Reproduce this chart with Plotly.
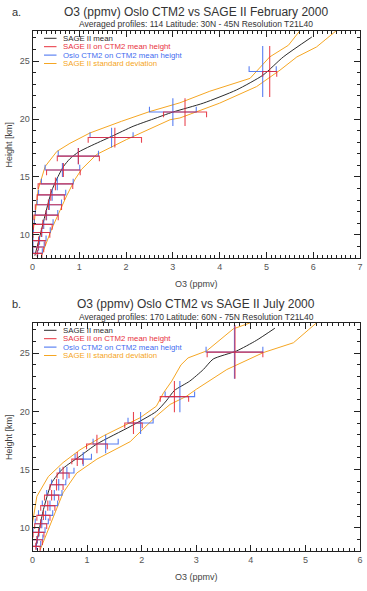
import plotly.graph_objects as go

W, H = 367, 591

# ---------------- Data: panel a (February 2000, 30N-45N) ----------------
a_mean_o3 = [0.05, 0.125, 0.196, 0.267, 0.339, 0.41, 0.517, 0.66, 0.8, 0.98, 1.23, 1.69, 2.15, 2.58, 3.0, 3.65, 4.36, 4.93, 5.36, 5.97]
a_mean_h = [8.2, 9.37, 10.51, 11.66, 12.8, 13.8, 14.8, 15.89, 16.57, 17.14, 17.65, 18.5, 19.37, 20.0, 20.6, 21.37, 22.51, 23.8, 25.36, 27.08]
a_sdlo_o3 = [-0.03, 0.02, 0.07, 0.12, 0.27, 0.52, 0.8, 1.23, 1.9, 2.51, 3.15, 3.79, 4.65, 4.9, 5.07, 5.47, 5.72]
a_sdlo_h = [9.5, 10.5, 12.2, 13.9, 15.9, 17.2, 17.9, 18.8, 19.8, 20.65, 21.4, 22.4, 23.51, 24.65, 25.36, 26.37, 27.65]
a_sdhi_o3 = [0.196, 0.41, 0.73, 0.91, 1.05, 1.37, 2.01, 2.94, 3.15, 4.0, 4.79, 5.29, 5.65, 6.07, 6.5]
a_sdhi_h = [8.23, 10.51, 13.37, 14.8, 15.66, 16.94, 18.23, 19.94, 20.09, 21.37, 22.8, 24.22, 25.36, 26.22, 27.65]

a_lev_h = [24.1, 20.6, 18.4, 16.8, 15.6, 14.4, 13.45, 12.6, 11.7, 10.9, 10.2, 9.5, 8.95, 8.4]
a_lev_dz = [2.2, 1.2, 0.85, 0.7, 0.6, 0.55, 0.5, 0.45, 0.45, 0.4, 0.38, 0.35, 0.3, 0.3]
a_sage = [5.07, 3.26, 1.76, 0.98, 0.66, 0.49, 0.39, 0.34, 0.29, 0.22, 0.19, 0.13, 0.12, 0.10]
a_sage_sd = [0.15, 0.46, 0.57, 0.45, 0.36, 0.37, 0.29, 0.28, 0.26, 0.20, 0.18, 0.14, 0.12, 0.10]
a_ctm = [4.92, 3.0, 1.69, 0.98, 0.64, 0.53, 0.42, 0.36, 0.30, 0.24, 0.20, 0.15, 0.13, 0.11]
a_ctm_sd = [0.29, 0.5, 0.46, 0.43, 0.37, 0.34, 0.29, 0.26, 0.24, 0.20, 0.18, 0.14, 0.12, 0.10]

# ---------------- Data: panel b (July 2000, 60N-75N) ----------------
b_mean_o3 = [0.064, 0.13, 0.2, 0.35, 0.56, 0.87, 1.18, 1.79, 2.27, 2.45, 2.6, 2.88, 3.13, 3.31, 3.74, 4.1, 4.44]
b_mean_h = [8.39, 10.0, 11.55, 13.85, 15.1, 16.15, 17.2, 18.7, 20.0, 20.9, 21.8, 22.6, 23.6, 24.5, 25.2, 26.1, 27.15]
b_sdlo_o3 = [0.0, 0.08, 0.29, 0.56, 0.87, 1.3, 1.97, 2.27, 2.4, 2.55, 2.72, 2.85, 3.19, 3.68, 3.98]
b_sdlo_h = [10.4, 12.7, 14.4, 15.6, 16.7, 17.9, 19.45, 20.45, 21.6, 22.6, 24.0, 24.6, 25.2, 27.1, 27.6]
b_sdhi_o3 = [0.14, 0.38, 0.56, 0.81, 1.18, 1.79, 2.27, 2.52, 2.82, 3.0, 3.56, 4.23, 4.78, 5.2]
b_sdhi_h = [8.1, 11.0, 13.0, 14.7, 15.9, 17.4, 19.6, 20.6, 21.3, 21.9, 23.6, 25.06, 25.9, 27.6]

b_lev_h = [25.1, 21.27, 19.0, 17.2, 15.9, 14.7, 13.7, 12.8, 11.9, 11.06, 10.34, 9.6, 8.97, 8.4]
b_lev_dz = [2.3, 1.35, 0.95, 0.8, 0.6, 0.55, 0.5, 0.45, 0.45, 0.4, 0.38, 0.35, 0.32, 0.3]
b_sage = [3.71, 2.6, 1.85, 1.18, 0.82, 0.56, 0.44, 0.35, 0.28, 0.20, 0.15, 0.11, 0.08, 0.06]
b_sage_sd = [0.51, 0.26, 0.16, 0.19, 0.10, 0.11, 0.12, 0.13, 0.13, 0.12, 0.11, 0.10, 0.10, 0.08]
b_ctm = [3.70, 2.7, 1.98, 1.34, 0.93, 0.63, 0.48, 0.40, 0.32, 0.24, 0.17, 0.12, 0.09, 0.07]
b_ctm_sd = [0.52, 0.27, 0.23, 0.23, 0.15, 0.13, 0.13, 0.14, 0.14, 0.13, 0.12, 0.11, 0.10, 0.08]

titles = ["O3 (ppmv) Oslo CTM2 vs SAGE II February 2000", "O3 (ppmv) Oslo CTM2 vs SAGE II July 2000"]
subtitles = ["Averaged profiles: 114 Latitude: 30N - 45N Resolution T21L40",
             "Averaged profiles: 170 Latitude: 60N - 75N Resolution T21L40"]
panel_labels = ["a.", "b."]
legend_names = ["SAGE II mean", "SAGE II on CTM2 mean height", "Oslo CTM2 on CTM2 mean height", "SAGE II standard deviation"]
x_max = [7, 6]
y_range = [8, 27.6]

# ---------------- Styles ----------------
C_BLACK = "#2b2b2b"
C_RED = "rgba(228,38,52,0.85)"
C_BLUE = "rgba(60,105,240,0.85)"
C_ORANGE = "#f5a623"
C_RED_T = "#e8323e"
C_BLUE_T = "#3f6cf0"
FONT = "Liberation Sans, Arial, Helvetica, sans-serif"
CAP = 0.45

# pixel layout
X0, X1 = 32.5, 360
panels_px = [(31, 258), (323, 551)]


def px(x):
    return x / W


def py(y):
    return 1 - y / H


def crosses(vals, sds, hs, dzs, cap_sign):
    xs, ys = [], []
    for v, s, h, dz in zip(vals, sds, hs, dzs):
        xs += [v - s, v - s, v + s, v + s, None, v, v, None]
        ys += [h + cap_sign * CAP, h, h, h + cap_sign * CAP, None, h - dz, h + dz, None]
    return xs, ys


fig = go.Figure()
panels = [
    (a_mean_o3, a_mean_h, a_sdlo_o3, a_sdlo_h, a_sdhi_o3, a_sdhi_h, a_lev_h, a_lev_dz, a_sage, a_sage_sd, a_ctm, a_ctm_sd),
    (b_mean_o3, b_mean_h, b_sdlo_o3, b_sdlo_h, b_sdhi_o3, b_sdhi_h, b_lev_h, b_lev_dz, b_sage, b_sage_sd, b_ctm, b_ctm_sd),
]

annotations = []
shapes = []
for i, (mo, mh, lo, lh, ho, hh, lev, dz, sg, sgs, ct, cts) in enumerate(panels):
    xa = "x" if i == 0 else "x2"
    ya = "y" if i == 0 else "y2"
    common = dict(xaxis=xa, yaxis=ya, mode="lines", showlegend=False, hoverinfo="skip")
    fig.add_trace(go.Scatter(x=lo, y=lh, line=dict(color=C_ORANGE, width=1), **common))
    fig.add_trace(go.Scatter(x=ho, y=hh, line=dict(color=C_ORANGE, width=1), **common))
    fig.add_trace(go.Scatter(x=mo, y=mh, line=dict(color=C_BLACK, width=1, shape="spline", smoothing=0.6), **common))
    bx, by = crosses(ct, cts, lev, dz, +1)
    fig.add_trace(go.Scatter(x=bx, y=by, line=dict(color=C_BLUE, width=1.1), connectgaps=False, **common))
    rx, ry = crosses(sg, sgs, lev, dz, -1)
    fig.add_trace(go.Scatter(x=rx, y=ry, line=dict(color=C_RED, width=1.1), connectgaps=False, **common))

    top, bot = panels_px[i]
    # titles
    annotations.append(dict(text=panel_labels[i], x=px(10), y=py(top - 19), xref="paper", yref="paper",
                            showarrow=False, xanchor="left", yanchor="middle", font=dict(size=11, color="#333", family=FONT)))
    annotations.append(dict(text=titles[i], x=px((X0 + X1) / 2), y=py(top - 19), xref="paper", yref="paper",
                            showarrow=False, xanchor="center", yanchor="middle", font=dict(size=12, color="#333", family=FONT)))
    annotations.append(dict(text=subtitles[i], x=px((X0 + X1) / 2), y=py(top - 6.5), xref="paper", yref="paper",
                            showarrow=False, xanchor="center", yanchor="middle", font=dict(size=8.5, color="#333", family=FONT)))
    annotations.append(dict(text="O3 (ppmv)", x=px((X0 + X1) / 2), y=py(bot + 26), xref="paper", yref="paper",
                            showarrow=False, xanchor="center", yanchor="middle", font=dict(size=9, color="#444", family=FONT)))
    annotations.append(dict(text="Height [km]", x=px(9), y=py((top + bot) / 2), xref="paper", yref="paper",
                            showarrow=False, textangle=-90, xanchor="center", yanchor="middle",
                            font=dict(size=9, color="#444", family=FONT)))
    # legend
    leg_cols = [C_BLACK, C_RED_T, C_BLUE_T, C_ORANGE]
    for k, (name, col) in enumerate(zip(legend_names, leg_cols)):
        yy = top + 7.3 + k * 8.4
        shapes.append(dict(type="line", xref="paper", yref="paper", x0=px(44), x1=px(56.5), y0=py(yy), y1=py(yy),
                           line=dict(color=col, width=1)))
        annotations.append(dict(text=name, x=px(61), y=py(yy), xref="paper", yref="paper", showarrow=False,
                                xanchor="left", yanchor="middle", font=dict(size=7.8, color=col, family=FONT)))


def axis_style(dtick, minor_dtick):
    return dict(showline=True, linecolor="#222", linewidth=1, mirror="allticks", ticks="inside", ticklen=6,
                tickwidth=1, tickcolor="#222", showgrid=False, zeroline=False,
                tickfont=dict(size=9, color="#555", family=FONT), dtick=dtick, tick0=0,
                minor=dict(ticks="inside", ticklen=3, dtick=minor_dtick, tick0=0, tickcolor="#222", showgrid=False),
                automargin=False, fixedrange=True)


fig.update_layout(
    width=W, height=H, margin=dict(l=0, r=0, t=0, b=0),
    paper_bgcolor="white", plot_bgcolor="white",
    font=dict(family=FONT),
    showlegend=False,
    xaxis=dict(domain=[px(X0), px(X1)], range=[0, x_max[0]], anchor="y", **axis_style(1, 0.1)),
    yaxis=dict(domain=[py(panels_px[0][1]), py(panels_px[0][0])], range=y_range, anchor="x", **axis_style(5, 1)),
    xaxis2=dict(domain=[px(X0), px(X1)], range=[0, x_max[1]], anchor="y2", **axis_style(1, 0.1)),
    yaxis2=dict(domain=[py(panels_px[1][1]), py(panels_px[1][0])], range=y_range, anchor="x2", **axis_style(5, 1)),
    annotations=annotations,
    shapes=shapes,
)

fig.write_html("out.html")
